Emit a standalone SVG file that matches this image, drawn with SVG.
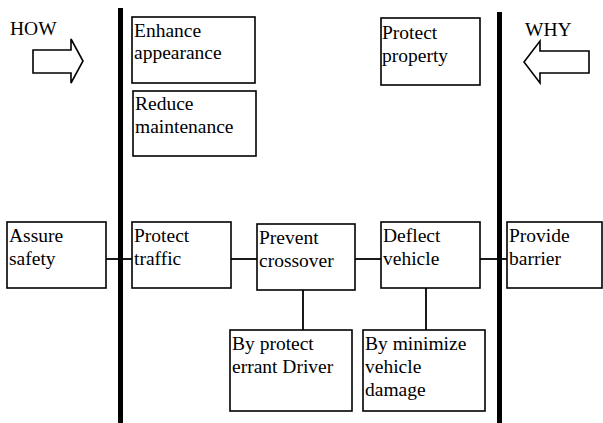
<svg xmlns="http://www.w3.org/2000/svg" width="603" height="423" viewBox="0 0 603 423">
<style>
  .box { fill: #fff; stroke: #000; stroke-width: 1.6; }
  .t { font-family: 'Liberation Serif', 'Times New Roman', Times, 'DejaVu Serif', serif; font-size: 19.5px; fill: #000; }
  .conn { stroke: #000; stroke-width: 1.8; fill: none; }
  .bar { stroke: #000; stroke-width: 5; }
  .arrow { fill: #fff; stroke: #000; stroke-width: 1.6; stroke-linejoin: miter; }
</style>
<rect width="603" height="423" fill="#fff"/>
<g id="connectors">
  <line class="conn" x1="106" y1="259" x2="132" y2="259"/>
  <line class="conn" x1="231" y1="259" x2="257" y2="259"/>
  <line class="conn" x1="355" y1="259" x2="381" y2="259"/>
  <line class="conn" x1="480" y1="259" x2="507" y2="259"/>
  <line class="conn" x1="303" y1="290" x2="303" y2="330"/>
  <line class="conn" x1="426" y1="288" x2="426" y2="330"/>
</g>
<g id="boundaries">
  <line class="bar" x1="120.5" y1="8" x2="120.5" y2="423"/>
  <line class="bar" x1="499.5" y1="12" x2="499.5" y2="423"/>
</g>
<g id="how">
  <text class="t" font-family="Liberation Serif, serif" x="10" y="35">HOW</text>
  <polygon class="arrow" points="33,50 71,50 71,39 83,61 71,83 71,73 33,73"/>
</g>
<g id="why">
  <text class="t" font-family="Liberation Serif, serif" x="525" y="36">WHY</text>
  <polygon class="arrow" points="589,51 540,51 540,41 524,62 540,83 540,73 589,73"/>
</g>
<g id="enhance-appearance">
  <rect class="box" x="132" y="17" width="123" height="66"/>
  <text class="t" x="134" y="37">Enhance</text>
  <text class="t" x="134" y="59">appearance</text>
</g>
<g id="reduce-maintenance">
  <rect class="box" x="133" y="91" width="123" height="65"/>
  <text class="t" x="135" y="110">Reduce</text>
  <text class="t" x="135" y="133">maintenance</text>
</g>
<g id="protect-property">
  <rect class="box" x="381" y="18" width="99" height="67"/>
  <text class="t" x="382" y="39">Protect</text>
  <text class="t" x="382" y="62">property</text>
</g>
<g id="assure-safety">
  <rect class="box" x="7" y="222" width="99" height="66"/>
  <text class="t" x="9" y="242">Assure</text>
  <text class="t" x="9" y="265">safety</text>
</g>
<g id="protect-traffic">
  <rect class="box" x="132" y="222" width="99" height="66"/>
  <text class="t" x="134" y="242">Protect</text>
  <text class="t" x="134" y="265">traffic</text>
</g>
<g id="prevent-crossover">
  <rect class="box" x="257" y="224" width="98" height="66"/>
  <text class="t" x="259" y="244">Prevent</text>
  <text class="t" x="259" y="267">crossover</text>
</g>
<g id="deflect-vehicle">
  <rect class="box" x="381" y="222" width="99" height="66"/>
  <text class="t" x="383" y="242">Deflect</text>
  <text class="t" x="383" y="265">vehicle</text>
</g>
<g id="provide-barrier">
  <rect class="box" x="507" y="222" width="95" height="66"/>
  <text class="t" x="509" y="242">Provide</text>
  <text class="t" x="509" y="265">barrier</text>
</g>
<g id="by-protect-errant-driver">
  <rect class="box" x="230" y="330" width="122" height="81"/>
  <text class="t" x="232" y="350">By protect</text>
  <text class="t" x="232" y="373">errant Driver</text>
</g>
<g id="by-minimize-vehicle-damage">
  <rect class="box" x="363" y="330" width="122" height="81"/>
  <text class="t" x="365" y="350">By minimize</text>
  <text class="t" x="365" y="373">vehicle</text>
  <text class="t" x="365" y="396">damage</text>
</g>
</svg>
